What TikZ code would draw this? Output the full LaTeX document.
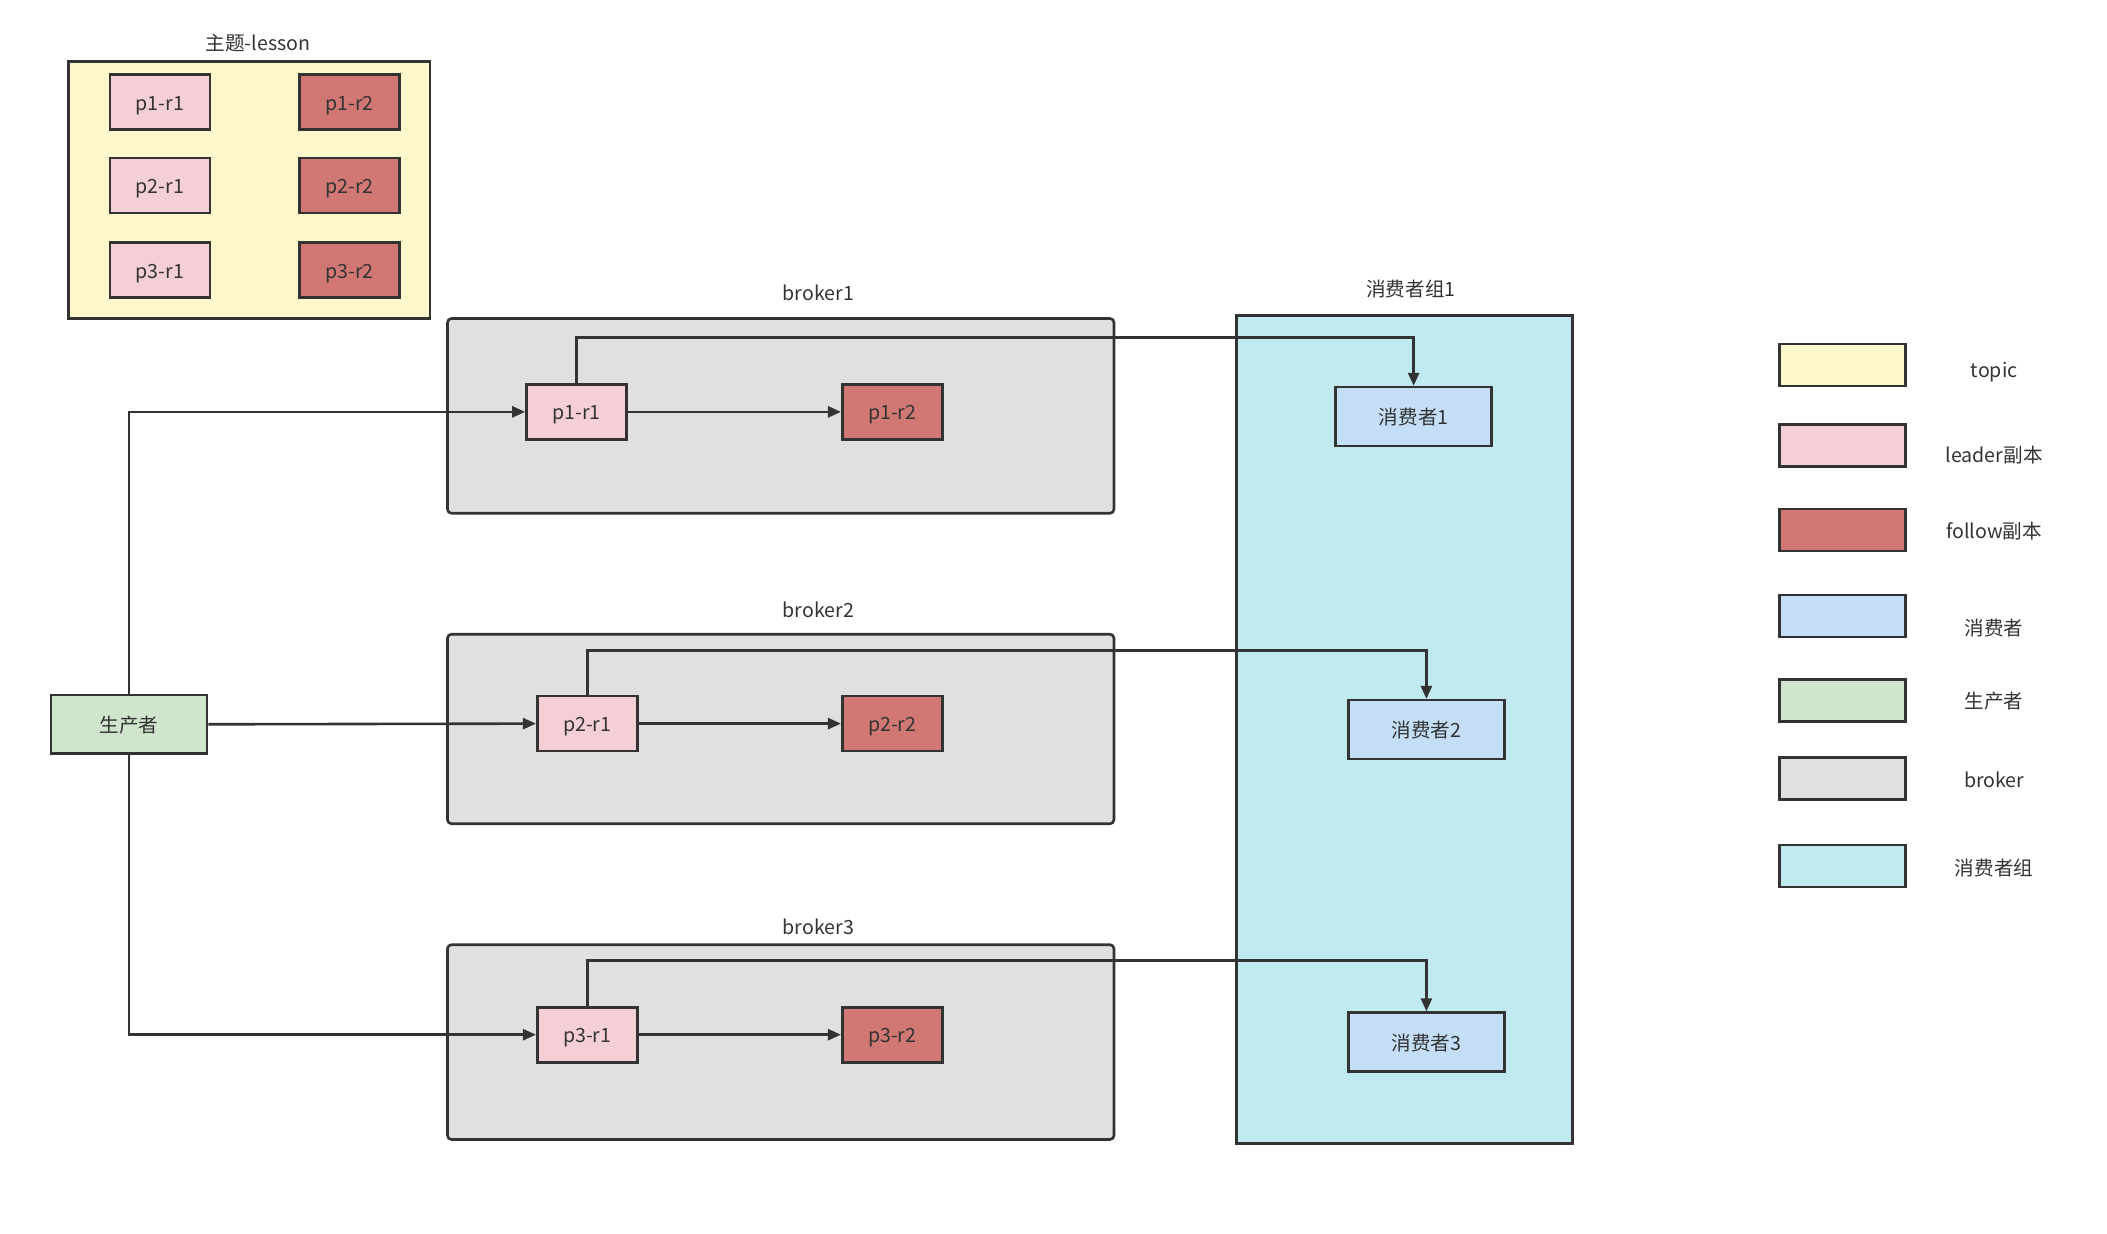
\documentclass[tikz,border=0pt]{standalone}
\usepackage{fontspec}
\setmainfont{Noto Sans CJK SC}
\usetikzlibrary{arrows.meta}
\definecolor{topicfill}{HTML}{FDF8CB}
\definecolor{leaderfill}{HTML}{F5CFD6}
\definecolor{followfill}{HTML}{D17874}
\definecolor{consfill}{HTML}{C4DEF7}
\definecolor{prodfill}{HTML}{D0E6CC}
\definecolor{brokerfill}{HTML}{E0E0E0}
\definecolor{groupfill}{HTML}{C0EAF0}
\definecolor{ink}{HTML}{333333}
\tikzset{
  box/.style={draw=ink,line width=1.3pt,text=ink,inner sep=0pt,text height=8pt,text depth=0pt},
  leader/.style={box,fill=leaderfill,minimum width=50pt,minimum height=27.5pt},
  follow/.style={box,fill=followfill,minimum width=50pt,minimum height=27.5pt},
  cons/.style={box,fill=consfill,minimum width=78pt,minimum height=29.5pt},
  legend/.style={box,fill=#1,minimum width=63pt,minimum height=21pt},
  caption/.style={text=ink},
  arr/.style={draw=ink,line width=1.3pt,-{Triangle[length=6.5pt,width=5.5pt]}}
}
\begin{document}
\begin{tikzpicture}[x=0.672pt,y=-0.672pt,every node/.style={font=\fontsize{9.8}{11}\selectfont}]
\useasboundingbox (0,0) rectangle (1568,918);
% topic with its six replicas
\node[box,fill=topicfill,minimum width=180.8pt,minimum height=128.4pt] (topic) at (185.5,141.5) {};
\node[caption] (topiclbl) at (192,32) {主题-lesson};
\foreach \p/\y in {1/76,2/138,3/201} {
  \node[leader] (t\p r1) at (119,\y) {p\p-r1};
  \node[follow] (t\p r2) at (260,\y) {p\p-r2};
}
% brokers
\node[box,fill=brokerfill,rounded corners=2pt,minimum width=333.3pt,minimum height=97.4pt] (broker1) at (581,309.5) {};
\node[box,fill=brokerfill,rounded corners=2pt,minimum width=333.3pt,minimum height=94.8pt] (broker2) at (581,542.5) {};
\node[box,fill=brokerfill,rounded corners=2pt,minimum width=333.3pt,minimum height=97.4pt] (broker3) at (581,775.5) {};
\node[caption] (b1lbl) at (609,218) {broker1};
\node[caption] (b2lbl) at (609,454) {broker2};
\node[caption] (b3lbl) at (609,690) {broker3};
\node[leader] (p11) at (429,306.5) {p1-r1};
\node[follow] (p12) at (664,306.5) {p1-r2};
\node[leader] (p21) at (437,538.5) {p2-r1};
\node[follow] (p22) at (664,538.5) {p2-r2};
\node[leader] (p31) at (437,770) {p3-r1};
\node[follow] (p32) at (664,770) {p3-r2};
% consumer group
\node[box,fill=groupfill,minimum width=168pt,minimum height=414pt] (group) at (1045,543) {};
\node[caption] (grplbl) at (1050,215) {消费者组1};
\node[cons] (c1) at (1052,310) {消费者1};
\node[cons] (c2) at (1061.5,543) {消费者2};
\node[cons] (c3) at (1061.5,775.5) {消费者3};
% producer
\node[box,fill=prodfill,minimum width=78pt,minimum height=29.5pt] (prod) at (96,539) {生产者};
% connectors
\draw[arr] (prod.north) |- (p11.west);
\draw[arr] (prod.east) -- (p21.west);
\draw[arr] (prod.south) |- (p31.west);
\draw[arr] (p11) -- (p12);
\draw[arr] (p21) -- (p22);
\draw[arr] (p31) -- (p32);
\draw[arr] (p11.north) -- ++(0,-34) -| (c1.north);
\draw[arr] (p21.north) -- ++(0,-33) -| (c2.north);
\draw[arr] (p31.north) -- ++(0,-34) -| (c3.north);
% legend
\foreach \n/\c/\y/\ly/\t in {1/topicfill/271.5/277/topic,2/leaderfill/331.5/339/leader副本,3/followfill/394.5/395/follow副本,4/consfill/458.5/467/消费者,5/prodfill/521.5/522/生产者,6/brokerfill/579.5/580/broker,7/groupfill/644.5/646/消费者组} {
  \node[legend=\c] (key\n) at (1371,\y) {};
  \node[caption] (keylbl\n) at (1484,\ly) {\t};
}
\end{tikzpicture}
\end{document}
